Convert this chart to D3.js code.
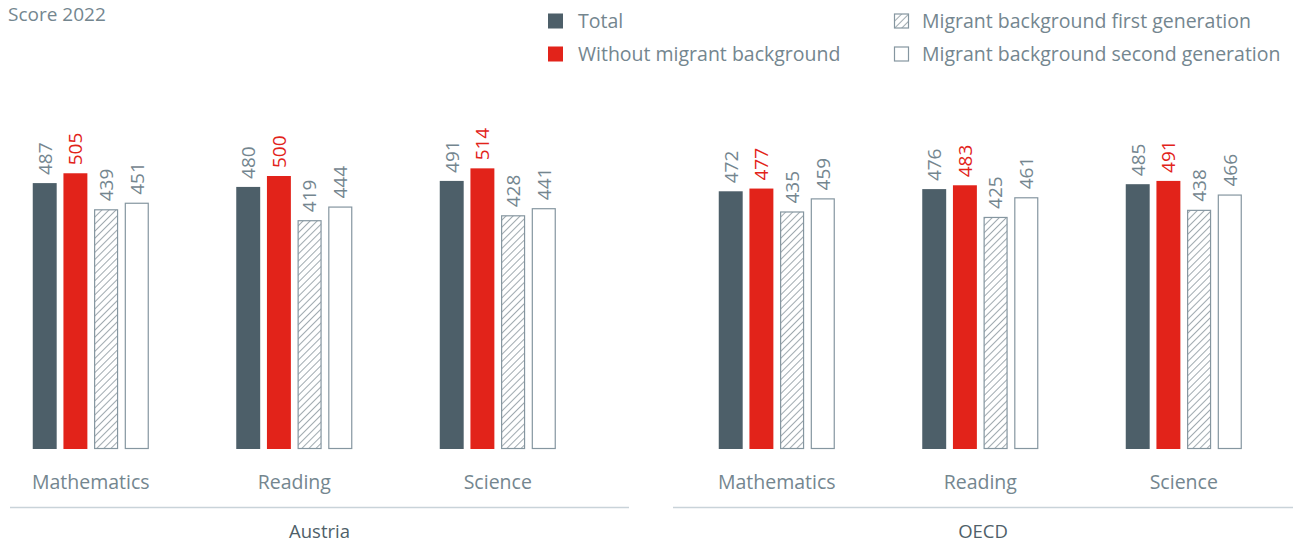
<!DOCTYPE html>
<html>
<head>
<meta charset="utf-8">
<script src="https://cdn.jsdelivr.net/npm/d3@7"></script>
<style>
  html, body { margin: 0; padding: 0; background: #fff; }
  svg { display: block; font-family: "Open Sans", Lato, sans-serif; font-weight: 400; }
</style>
</head>
<body>
<svg id="chart" width="1298" height="543"></svg>
<script>
// PISA 2022 scores by migrant background
const regions = ["Austria", "OECD"];
const subjects = ["Mathematics", "Reading", "Science"];
const seriesNames = [
  "Total",
  "Without migrant background",
  "Migrant background first generation",
  "Migrant background second generation"
];
// values per region, in subject order
const totalScores = { Austria: [487, 480, 491], OECD: [472, 476, 485] };
const withoutMigrantScores = { Austria: [505, 500, 514], OECD: [477, 483, 491] };
const firstGenScores = { Austria: [439, 419, 428], OECD: [435, 425, 438] };
const secondGenScores = { Austria: [451, 444, 441], OECD: [459, 461, 466] };
const yTitle = "Score 2022";

const seriesValues = [totalScores, withoutMigrantScores, firstGenScores, secondGenScores];

const textColor = "#74868f";
const darkGray = "#4d5f69";
const red = "#e2231a";
const strokeGray = "#8596a0";
const ruleColor = "#c9d3d9";
const fontSize = "19.5px";

const svg = d3.select("#chart");

// hatch pattern for first generation
const defs = svg.append("defs");
const pat = defs.append("pattern")
  .attr("id", "hatch")
  .attr("patternUnits", "userSpaceOnUse")
  .attr("width", 5).attr("height", 5)
  .attr("patternTransform", "rotate(45)");
pat.append("rect").attr("width", 5).attr("height", 5).attr("fill", "#fff");
pat.append("line").attr("x1", 0).attr("y1", 0).attr("x2", 0).attr("y2", 5)
  .attr("stroke", "#5f707b").attr("stroke-width", 1.2);

const styles = [
  { fill: darkGray, stroke: "none", label: textColor },
  { fill: red, stroke: "none", label: red },
  { fill: "url(#hatch)", stroke: strokeGray, label: textColor },
  { fill: "#fff", stroke: strokeGray, label: textColor }
];

// layout of the two panels
const panels = {
  Austria: { groups: [-11, 599.5], rule: [10, 629] },
  OECD:    { groups: [675, 1285.5], rule: [673, 1293] }
};

const y = d3.scaleLinear().domain([0, 600]).range([449, 121.4]);

const xSeries = d3.scaleBand()
  .domain(seriesNames)
  .range([-58, 58])
  .paddingInner(0.22);

regions.forEach(region => {
  const p = panels[region];
  const xSubj = d3.scaleBand().domain(subjects).range(p.groups).padding(0);

  const g = svg.append("g");

  // category axis (subject names)
  const axis = d3.axisBottom(xSubj).tickSize(0).tickPadding(0);
  const axG = g.append("g").attr("transform", "translate(0,449)").call(axis);
  axG.select(".domain").remove();
  axG.selectAll("text")
    .attr("y", 40)
    .attr("dy", 0)
    .attr("fill", textColor)
    .style("font-size", fontSize)
    .style("font-family", "'Open Sans', Lato, sans-serif");

  subjects.forEach((subj, si) => {
    const cx = xSubj(subj) + xSubj.bandwidth() / 2;
    seriesNames.forEach((s, k) => {
      const v = seriesValues[k][region][si];
      const st = styles[k];
      const bx = cx + xSeries(s);
      const bw = xSeries.bandwidth();
      const inset = st.stroke === "none" ? 0 : 0.5;
      g.append("rect")
        .attr("x", bx + inset)
        .attr("y", y(v) + inset)
        .attr("width", bw - 2 * inset)
        .attr("height", y(0) - y(v) - 2 * inset)
        .attr("fill", st.fill)
        .attr("stroke", st.stroke)
        .attr("stroke-width", 1.2);
      const lx = bx + bw / 2, ly = y(v) - 8;
      g.append("text")
        .attr("transform", `translate(${lx},${ly}) rotate(-90)`)
        .attr("text-anchor", "start")
        .attr("dy", "0.36em")
        .attr("fill", st.label)
        .style("font-size", "19px")
        .text(v);
    });
  });

  // panel rule and region name
  g.append("line")
    .attr("x1", p.rule[0]).attr("x2", p.rule[1])
    .attr("y1", 507.5).attr("y2", 507.5)
    .attr("stroke", ruleColor).attr("stroke-width", 1.3);
  g.append("text")
    .attr("x", (p.rule[0] + p.rule[1]) / 2)
    .attr("y", 538)
    .attr("text-anchor", "middle")
    .attr("fill", "#4f5f69")
    .style("font-size", "18.5px")
    .text(region);
});

// y title
svg.append("text")
  .attr("x", 8).attr("y", 20.5)
  .attr("fill", textColor)
  .style("font-size", "19px")
  .text(yTitle);

// legend
const legendPos = [
  { x: 548, y: 21 }, { x: 548, y: 54 },
  { x: 894, y: 21 }, { x: 894, y: 54 }
];
seriesNames.forEach((s, k) => {
  const lp = legendPos[k];
  const st = styles[k];
  const lg = svg.append("g").attr("transform", `translate(${lp.x},${lp.y})`);
  if (st.stroke === "none") {
    lg.append("rect").attr("x", 0).attr("y", -7.5).attr("width", 15).attr("height", 15)
      .attr("fill", st.fill);
  } else {
    lg.append("rect").attr("x", 0.5).attr("y", -7).attr("width", 14).attr("height", 14)
      .attr("fill", st.fill).attr("stroke", strokeGray).attr("stroke-width", 1.2);
  }
  lg.append("text")
    .attr("x", st.stroke === "none" ? 30 : 28)
    .attr("y", 0)
    .attr("dy", "0.35em")
    .attr("fill", textColor)
    .style("font-size", fontSize)
    .text(s);
});
</script>
</body>
</html>
